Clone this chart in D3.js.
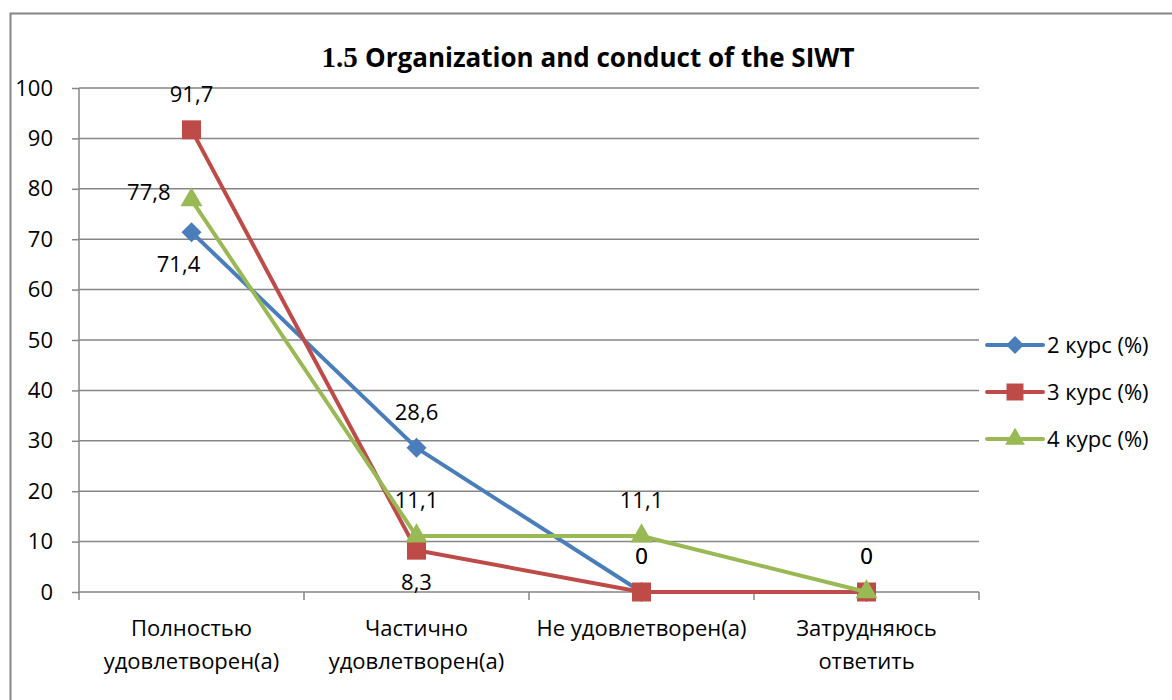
<!DOCTYPE html>
<html>
<head>
<meta charset="utf-8">
<script src="https://cdn.jsdelivr.net/npm/d3@7"></script>
<style>
  body { margin: 0; background: #fff; }
  text { font-family: "Open Sans", Lato, sans-serif; fill: #000; }
</style>
</head>
<body>
<div id="chart"></div>
<script>
// data
const categories = ["Полностью удовлетворен(а)", "Частично удовлетворен(а)", "Не удовлетворен(а)", "Затрудняюсь ответить"];
const seriesNames = ["2 курс (%)", "3 курс (%)", "4 курс (%)"];
const kurs2 = [71.4, 28.6, 0, 0];
const kurs3 = [91.7, 8.3, 0, 0];
const kurs4 = [77.8, 11.1, 11.1, 0];
const yTicks = [0, 10, 20, 30, 40, 50, 60, 70, 80, 90, 100];

// where each data label sits (style, not data)
const labelPlace = [
  ["below", "above", "above", "above"],
  ["above", "below", "above", "above"],
  ["left", "above", "above", "none"]
];
const colors = ["#4A7EBB", "#BE4B48", "#98B954"];
// diamond = square turned 45deg
const symbols = [d3.symbolSquare, d3.symbolSquare, d3.symbolTriangle];
const symRot = [45, 0, 0];
const symSize = [200, 360, 210];
const fs = "22px";

const W = 1172, H = 700;
const plot = { left: 79, right: 979, top: 88, bottom: 592 };

const svg = d3.select("#chart").append("svg")
  .attr("width", W).attr("height", H);

// outer chart border
svg.append("rect")
  .attr("x", 10.5).attr("y", 13.5)
  .attr("width", W + 20).attr("height", H + 20)
  .attr("fill", "none").attr("stroke", "#868686").attr("stroke-width", 2);

// title
const title = svg.append("text")
  .attr("x", 588).attr("y", 67)
  .attr("text-anchor", "middle")
  .style("font-weight", "bold").style("font-size", "26px");
title.append("tspan").style("font-family", "'Liberation Serif', serif").style("font-size", "29px").text("1.5 ");
title.append("tspan").text("Organization and conduct of the SIWT");

const x = d3.scaleBand().domain(categories).range([plot.left, plot.right]).padding(0);
const cx = d => x(d) + x.bandwidth() / 2;
const y = d3.scaleLinear().domain([0, 100]).range([plot.bottom, plot.top]);

// y axis ticks and labels
const yAxis = svg.append("g")
  .attr("transform", `translate(${plot.left},0)`)
  .call(d3.axisLeft(y).tickValues(yTicks).tickSize(7).tickPadding(19).tickFormat(d3.format("d")));
yAxis.select(".domain").remove();
yAxis.selectAll("line").attr("stroke", "#868686").attr("stroke-width", 1.5);
yAxis.selectAll("text").style("font-size", fs).attr("font-family", null);

// horizontal gridlines
svg.append("g").selectAll("line")
  .data(yTicks)
  .join("line")
  .attr("x1", plot.left).attr("x2", plot.right)
  .attr("y1", d => y(d)).attr("y2", d => y(d))
  .attr("stroke", "#868686").attr("stroke-width", 1.5);

svg.append("line")
  .attr("x1", plot.left).attr("x2", plot.left)
  .attr("y1", plot.top).attr("y2", plot.bottom)
  .attr("stroke", "#868686").attr("stroke-width", 1.5);

// x axis ticks at band boundaries
const bounds = categories.map(d => x(d)).concat([plot.right]);
svg.append("g").selectAll("line")
  .data(bounds)
  .join("line")
  .attr("x1", d => d).attr("x2", d => d)
  .attr("y1", plot.bottom).attr("y2", plot.bottom + 8)
  .attr("stroke", "#868686").attr("stroke-width", 1.5);

// category labels (two lines where needed)
const catLines = {
  "Полностью удовлетворен(а)": ["Полностью", "удовлетворен(а)"],
  "Частично удовлетворен(а)": ["Частично", "удовлетворен(а)"],
  "Не удовлетворен(а)": ["Не удовлетворен(а)"],
  "Затрудняюсь ответить": ["Затрудняюсь", "ответить"]
};
svg.append("g").selectAll("text")
  .data(categories)
  .join("text")
  .attr("x", d => cx(d)).attr("y", 636)
  .attr("text-anchor", "middle")
  .style("font-size", fs)
  .selectAll("tspan")
  .data(d => catLines[d].map(t => ({ t, c: d })))
  .join("tspan")
  .attr("x", d => cx(d.c))
  .attr("dy", (d, i) => i === 0 ? 0 : 33)
  .text(d => d.t);

// series
const allSeries = [kurs2, kurs3, kurs4];
const line = d3.line().x((d, i) => cx(categories[i])).y(d => y(d));

allSeries.forEach((vals, s) => {
  const g = svg.append("g");
  g.append("path")
    .datum(vals)
    .attr("d", line)
    .attr("fill", "none")
    .attr("stroke", colors[s]).attr("stroke-width", 4)
    .attr("stroke-linejoin", "round");
  g.selectAll("path.m")
    .data(vals)
    .join("path")
    .attr("class", "m")
    .attr("d", d3.symbol().type(symbols[s]).size(symSize[s]))
    .attr("transform", (d, i) => `translate(${cx(categories[i])},${y(d)}) rotate(${symRot[s]})`)
    .attr("fill", colors[s]);
});

// data labels
const fmt = v => String(v).replace(".", ",");
allSeries.forEach((vals, s) => {
  svg.append("g").selectAll("text")
    .data(vals.map((v, i) => ({ v, i, p: labelPlace[s][i] })).filter(d => d.p !== "none"))
    .join("text")
    .attr("x", d => cx(categories[d.i]) + (d.p === "left" ? -21 : d.p === "below" && d.i === 0 ? -13 : 0))
    .attr("y", d => y(d.v) + (d.p === "above" ? -36 : d.p === "below" ? 32 : -8))
    .attr("dy", "0.35em")
    .attr("text-anchor", d => d.p === "left" ? "end" : "middle")
    .style("font-size", fs)
    .text(d => fmt(d.v));
});

// legend
const legend = svg.append("g").selectAll("g")
  .data(seriesNames)
  .join("g")
  .attr("transform", (d, i) => `translate(0,${345 + i * 47})`);
legend.append("line")
  .attr("x1", 987).attr("x2", 1043)
  .attr("stroke", (d, i) => colors[i]).attr("stroke-width", 4)
  .attr("stroke-linecap", "round");
legend.append("path")
  .attr("d", (d, i) => d3.symbol().type(symbols[i]).size(symSize[i] * 0.8)())
  .attr("transform", (d, i) => `translate(1015,0) rotate(${symRot[i]})`)
  .attr("fill", (d, i) => colors[i]);
legend.append("text")
  .attr("x", 1047).attr("dy", "0.35em")
  .style("font-size", fs)
  .text(d => d);
</script>
</body>
</html>
